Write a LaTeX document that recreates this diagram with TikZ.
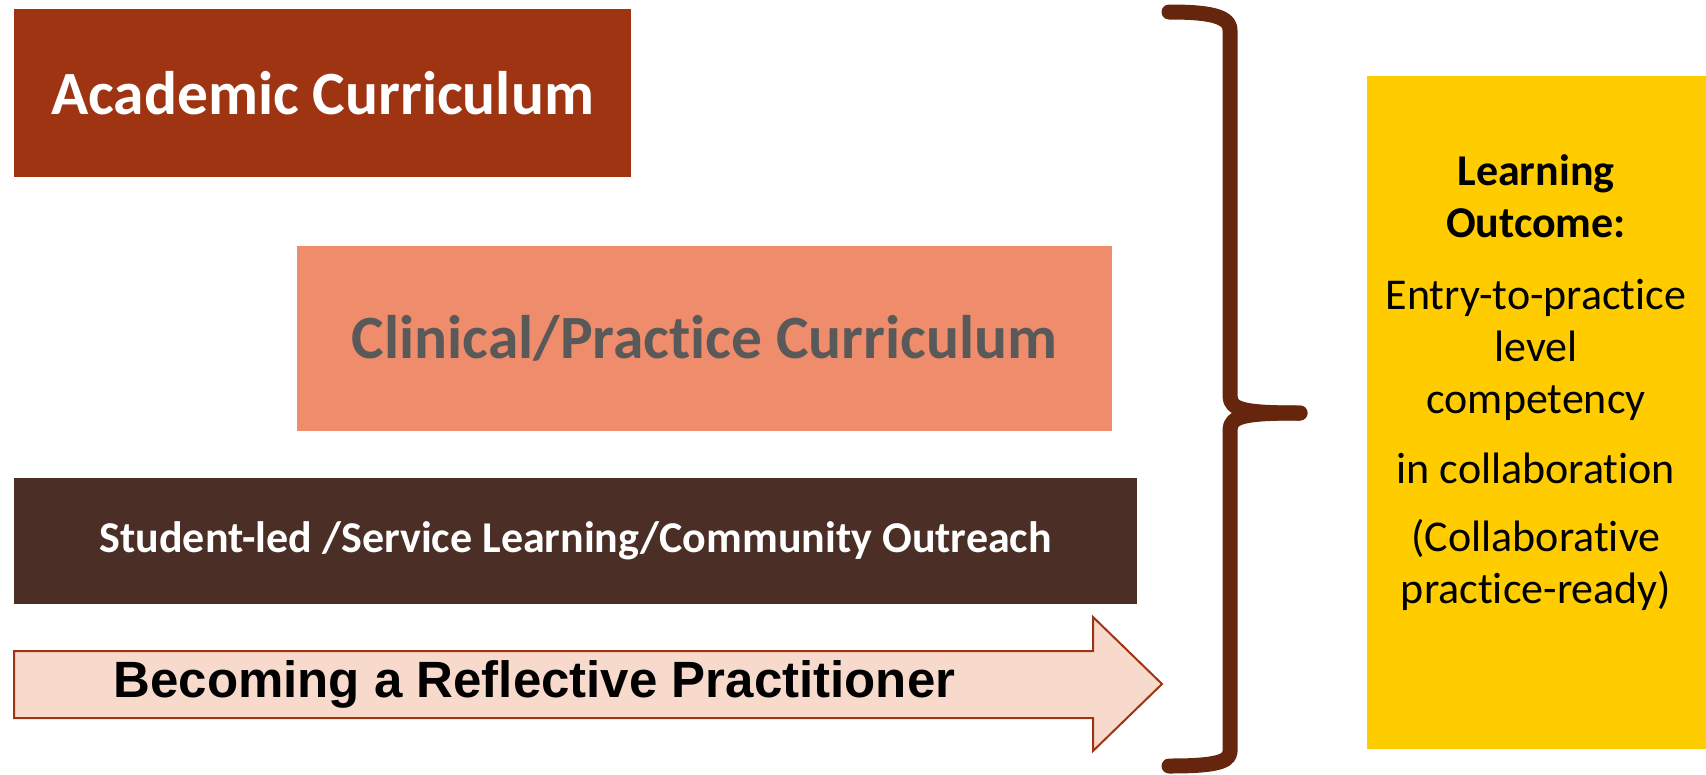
\documentclass[tikz,border=0pt]{standalone}
\usepackage{fontspec}
\setmainfont{Carlito}[Ligatures=NoCommon]
\newfontfamily\heavyfont{Liberation Sans}
\definecolor{academic}{RGB}{158, 52, 18}
\definecolor{clinical}{RGB}{239, 140, 107}
\definecolor{outreach}{RGB}{75, 47, 38}
\definecolor{reflectfill}{RGB}{248, 218, 205}
\definecolor{bracebrown}{RGB}{102, 38, 14}
\definecolor{outcome}{RGB}{255, 204, 0}
\definecolor{textgray}{RGB}{89, 89, 89}
\usetikzlibrary{positioning}

\tikzset{
  band/.style={rectangle, inner sep=0pt, anchor=north west},
  bigbrace/.style={draw=bracebrown, line width=15pt, line cap=round, line join=round},
}

\begin{document}
\begin{tikzpicture}[x=1pt, y=-1pt]
  \useasboundingbox (0,0) rectangle (1706,774);

  \node[band, fill=academic, minimum width=617pt, minimum height=168pt,
        text=white, font=\bfseries\fontsize{61.5}{72}\selectfont] (academic) at (14,9) {Academic Curriculum};
  \node[band, fill=clinical, minimum width=815pt, minimum height=185pt,
        text=textgray, font=\bfseries\fontsize{61.5}{72}\selectfont] (clinical) at (297,246) {Clinical/Practice Curriculum};
  \node[band, fill=outreach, minimum width=1123pt, minimum height=126pt,
        text=white, font=\bfseries\fontsize{44}{52}\selectfont] (outreach) at (14,478) {Student-led /Service Learning/Community Outreach};

  \draw[academic, line width=2pt, fill=reflectfill]
    (14,651) -- (1093,651) -- (1093,617) -- (1162,684) -- (1093,751) -- (1093,718) -- (14,718) -- cycle;
  \node[anchor=west, font=\heavyfont\bfseries\fontsize{51}{58}\selectfont] (reflect) at (110,684) {Becoming a Reflective Practitioner};

  \coordinate (bracetip) at (1300,413);
  \draw[bigbrace] (1169,12) .. controls (1205,12) and (1230,15) .. (1230,30) -- (1230,396)
    .. controls (1230,410) and (1245,413) .. (bracetip);
  \draw[bigbrace] (bracetip) .. controls (1245,413) and (1230,416) .. (1230,430) -- (1230,752)
    .. controls (1230,764) and (1205,766) .. (1169,766);

  \node[band, fill=outcome, minimum width=339pt, minimum height=673pt] (outcomebox) at (1367,76) {};
  \node[align=center, font=\fontsize{44}{52}\selectfont] (outcometext) at (1536,383) {
    \textbf{Learning}\\
    \textbf{Outcome:}\\[20pt]
    Entry-to-practice\\
    level\\
    competency\\[18pt]
    in collaboration\\[16pt]
    (Collaborative\\
    practice-ready)
  };
\end{tikzpicture}
\end{document}
